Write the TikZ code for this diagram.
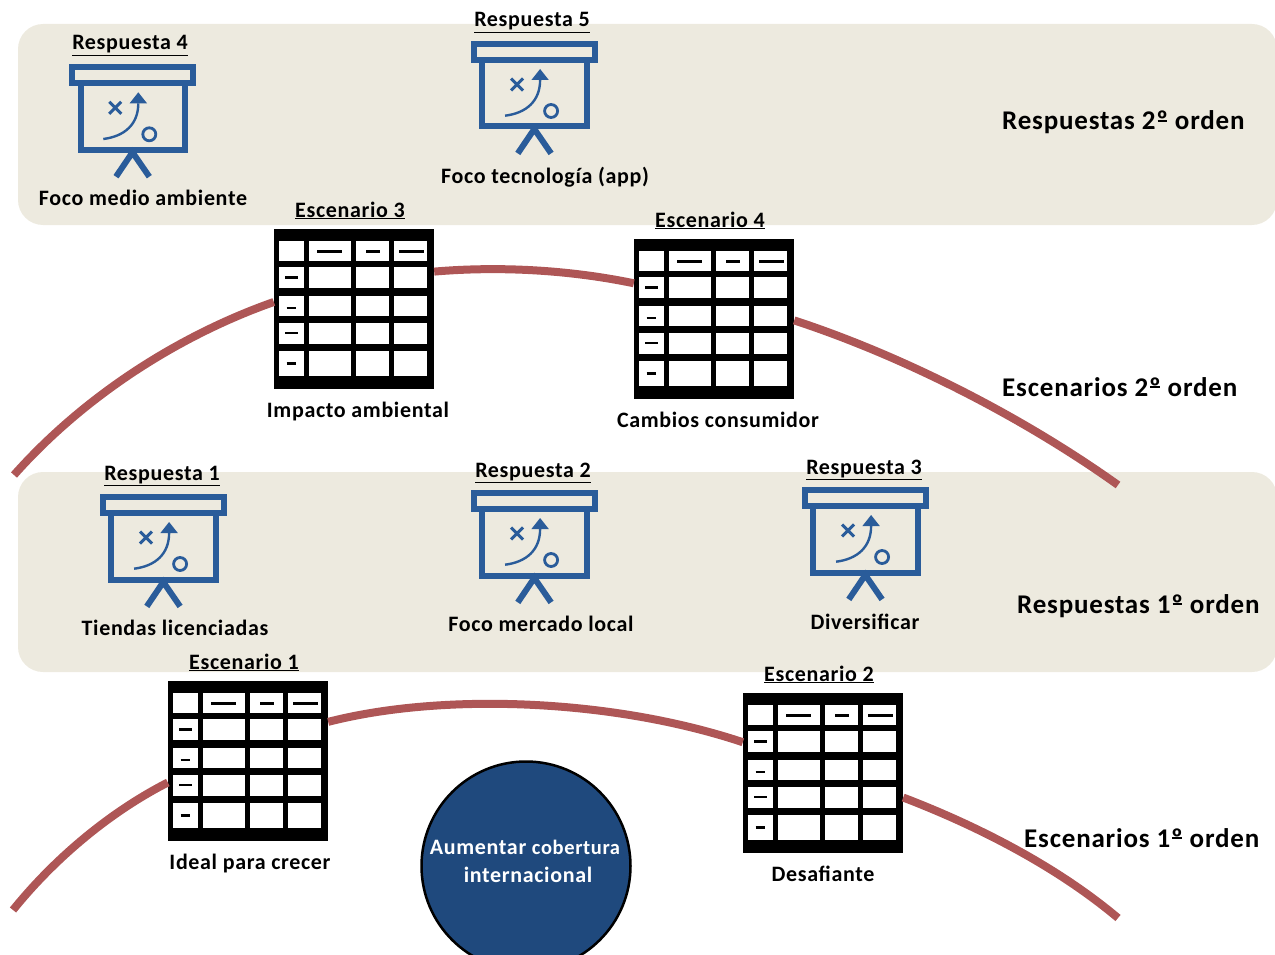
\documentclass[tikz,border=0pt]{standalone}
\usepackage{fontspec}
\setmainfont{Carlito}[LetterSpace=3]
\definecolor{bandcolor}{HTML}{EDEADF}
\definecolor{boardblue}{HTML}{2A5C9A}
\definecolor{circleblue}{HTML}{1F497D}
\definecolor{curvered}{HTML}{AE5656}
\newcommand{\ordo}{º\llap{\rule[0.3em]{0.36em}{0.055em}\kern0.03em}}
\tikzset{
	band/.style={fill=bandcolor, rounded corners=25pt},
	title/.style={font=\fontsize{22}{24}\selectfont\bfseries, inner sep=0pt, anchor=base},
	caption/.style={font=\fontsize{22}{24}\selectfont\bfseries, inner sep=0pt, anchor=base},
	level/.style={font=\fontsize{27}{30}\selectfont\bfseries, inner sep=0pt, anchor=base west},
	tablebox/.style={fill=black, minimum width=160pt, minimum height=160pt, inner sep=0pt},
	curve/.style={draw=curvered, line width=8pt},
	board/.pic={
		\draw[boardblue, line width=6pt] (-60.5,3) rectangle (60.5,18.7);
		\draw[boardblue, line width=6pt] (-52.2,18.7) -- (-52.2,85.5) -- (52.2,85.5) -- (52.2,18.7);
		\draw[boardblue, line width=6pt] (-16.7,112.4) -- (-0.2,88) -- (16.6,112.4);
		\draw[boardblue, line width=3pt] (-23.5,37.5) -- (-11.5,49.5) (-23.5,49.5) -- (-11.5,37.5);
		\draw[boardblue, line width=2.4pt] (-29.4,74.7) .. controls (-8,72) and (5.6,60) .. (5.6,39);
		\fill[boardblue] (5.6,28) -- (14.3,39) -- (-3.1,39) -- cycle;
		\draw[boardblue, line width=2.8pt] (16.6,70) circle (6.5);
	},
	tablegrid/.pic={
		% origin is the top left corner of the black box
		\foreach \xa/\xb in {35/76.7, 81.7/115.3, 120.3/153.3}
			\foreach \ya/\yb in {11.7/31.7, 38.3/59.3, 66.7/87.3, 94/115, 121.7/147.3}
				\fill[white] (\xa,\ya) rectangle (\xb,\yb);
		\foreach \ya/\yb in {11.7/31.7, 38.3/59.3, 66.7/87.3, 94/115, 121.7/147.3}
			\fill[white] (5.3,\ya) rectangle (30,\yb);
		\foreach \xa/\xb/\ya in {43.3/67.7/22.3, 92/106/22.3, 125.3/150/22.3, 11/24.3/48.7, 12.7/22/79, 11/24.3/104, 12.7/22/134.3}
			\draw[black, line width=2.6pt] (\xa,\ya) -- (\xb,\ya);
	}
}
\begin{document}
\begin{tikzpicture}[x=1pt, y=-1pt]
	\useasboundingbox (0,0) rectangle (1275,955);
	\clip (0,0) rectangle (1275,955);

	% Bands for the responses
	\fill[band] (18,24) rectangle (1277,225);
	\fill[band] (18,472) rectangle (1277,672);

	% Scenario tables
	\node[tablebox] (esc1) at (248,761) {};
	\node[tablebox] (esc2) at (823,773) {};
	\node[tablebox] (esc3) at (354,309) {};
	\node[tablebox] (esc4) at (714,319) {};
	\pic at (168,681) {tablegrid};
	\pic at (743,693) {tablegrid};
	\pic at (274,229) {tablegrid};
	\pic at (634,239) {tablegrid};

	% Free ends of the curves
	\coordinate (lowstart) at (13,910);
	\coordinate (lowend) at (1118,918);
	\coordinate (highstart) at (14,475);
	\coordinate (highend) at (1118,485);

	\draw[curve] (lowstart) .. controls (55,858) and (110,812) .. (esc1.195);
	\draw[curve] (esc1.26) .. controls (440,693) and (610,698) .. (esc2.159);
	\draw[curve] (esc2.343) .. controls (975,825) and (1055,865) .. (lowend);
	\draw[curve] (highstart) .. controls (85,395) and (180,335) .. (esc3.175);
	\draw[curve] (esc3.25) .. controls (500,266) and (570,270) .. (esc4.156);
	\draw[curve] (esc4.359) .. controls (900,355) and (1020,415) .. (highend);

	% Response boards
	\pic at (132.7,64.3) {board};
	\pic at (534.5,41) {board};
	\pic at (163.5,494) {board};
	\pic at (534.5,490) {board};
	\pic at (865.5,487) {board};

	% Titles
	\node[title] (tr4) at (130,50) {\underline{Respuesta 4}};
	\node[title] (tr5) at (532,27) {\underline{Respuesta 5}};
	\node[title] (tr1) at (162,480) {\underline{Respuesta 1}};
	\node[title] (tr2) at (533,477) {\underline{Respuesta 2}};
	\node[title] (tr3) at (864,474) {\underline{Respuesta 3}};
	\node[title] (te3) at (350,217) {\underline{Escenario 3}};
	\node[title] (te4) at (710,227) {\underline{Escenario 4}};
	\node[title] (te1) at (244,669) {\underline{Escenario 1}};
	\node[title] (te2) at (819,681) {\underline{Escenario 2}};

	% Captions
	\node[caption] (cr4) at (143,205) {Foco medio ambiente};
	\node[caption] (cr5) at (545,183) {Foco tecnología (app)};
	\node[caption] (cr1) at (175,635) {Tiendas licenciadas};
	\node[caption] (cr2) at (541,631) {Foco mercado local};
	\node[caption] (cr3) at (865,629) {Diversificar};
	\node[caption] (ce3) at (358,417) {Impacto ambiental};
	\node[caption] (ce4) at (718,427) {Cambios consumidor};
	\node[caption] (ce1) at (250,869) {Ideal para crecer};
	\node[caption] (ce2) at (823,881) {Desafiante};

	% Level names
	\node[level] (l2r) at (1002,130) {Respuestas 2\ordo\ orden};
	\node[level] (l2e) at (1002,396) {Escenarios 2\ordo\ orden};
	\node[level] (l1r) at (1017,613) {Respuestas 1\ordo\ orden};
	\node[level] (l1e) at (1024,847) {Escenarios 1\ordo\ orden};

	% Goal in the middle
	\node[circle, draw=black, line width=2.5pt, fill=circleblue, minimum size=209pt, inner sep=0pt] (goal) at (526,866) {};
	\node[text=white, align=center, inner sep=0pt, font=\fontsize{22}{28}\selectfont\bfseries] (goaltext) at (525,861) {Aumentar {\fontsize{20.5}{28}\selectfont cobertura}\\\hspace*{6pt}internacional};
\end{tikzpicture}
\end{document}
